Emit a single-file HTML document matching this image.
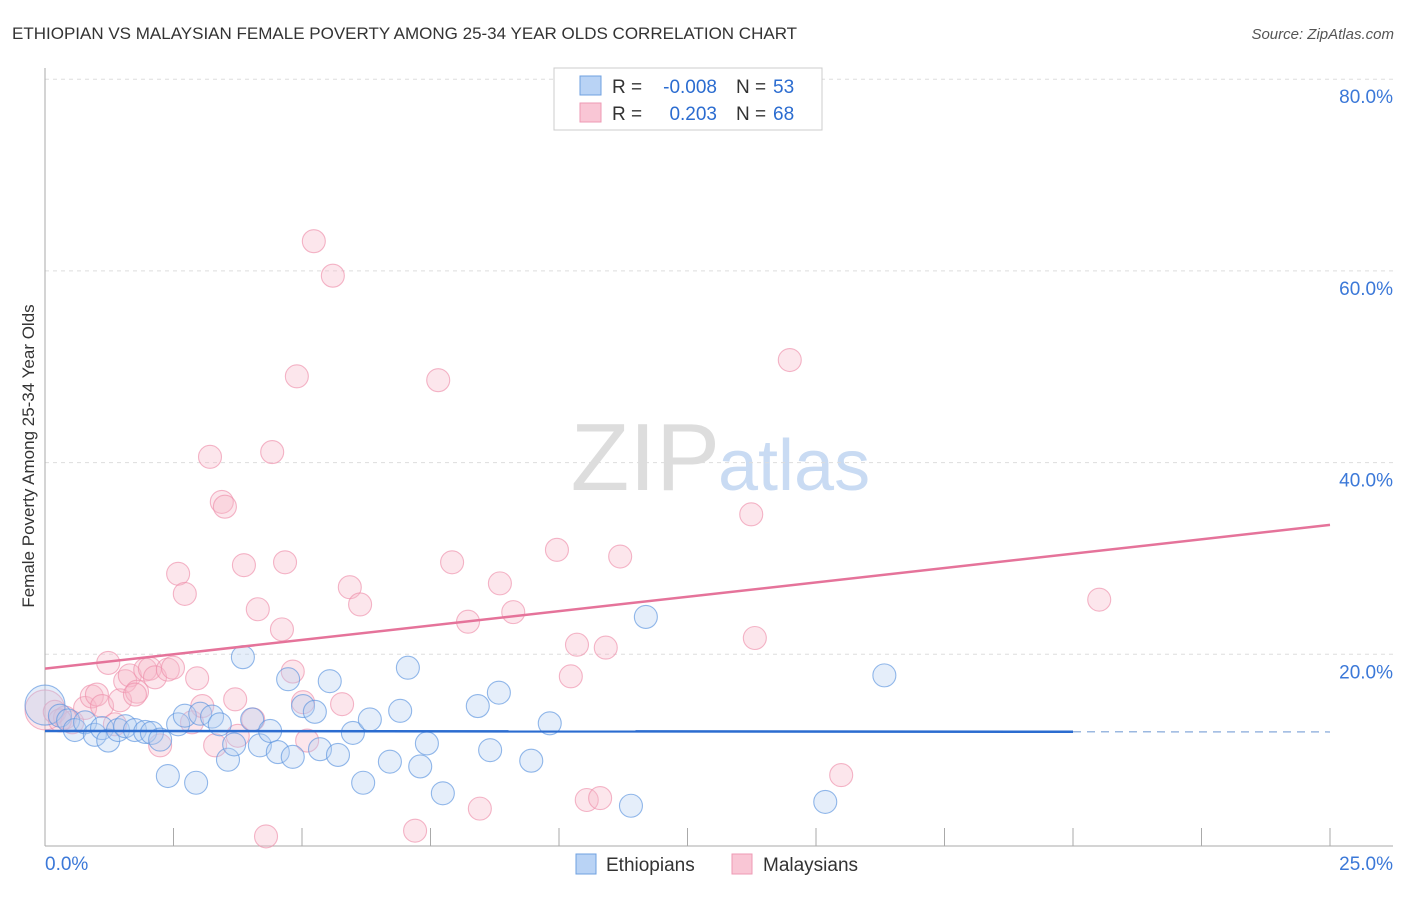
<!DOCTYPE html>
<html><head><meta charset="utf-8"><style>
body{margin:0;background:#fff;font-family:"Liberation Sans",sans-serif}
svg text{font-family:"Liberation Sans",sans-serif}
</style></head><body>
<svg id="c" width="1406" height="892">
<text x="12" y="39" font-size="17" fill="#333">ETHIOPIAN VS MALAYSIAN FEMALE POVERTY AMONG 25-34 YEAR OLDS CORRELATION CHART</text>
<text x="1394" y="39" font-size="15" fill="#555" text-anchor="end" font-style="italic">Source: ZipAtlas.com</text>
<text x="720" y="490" font-size="96" fill="#ddd" text-anchor="end" font-family="Liberation Serif">ZIP</text>
<text x="718" y="490" font-size="72" fill="#c9dbf3">atlas</text>
<text transform="translate(34,456) rotate(-90)" font-size="17" fill="#333" text-anchor="middle">Female Poverty Among 25-34 Year Olds</text>
<g id="grid"></g><g id="pts"></g><g id="trend"></g>
<g>
<rect x="554" y="68" width="268" height="62" fill="#fff" stroke="#ccc"/>
<rect x="580" y="76" width="21" height="19" fill="#b9d3f5" stroke="#6fa0e0"/>
<rect x="580" y="103" width="21" height="19" fill="#f9c6d5" stroke="#ee9ab4"/>
<text x="612" y="93" font-size="19" fill="#333">R =</text>
<text x="717" y="93" font-size="19" fill="#2b6cd0" text-anchor="end">-0.008</text>
<text x="736" y="93" font-size="19" fill="#333">N =</text>
<text x="773" y="93" font-size="19" fill="#2b6cd0">53</text>
<text x="612" y="120" font-size="19" fill="#333">R =</text>
<text x="717" y="120" font-size="19" fill="#2b6cd0" text-anchor="end">0.203</text>
<text x="736" y="120" font-size="19" fill="#333">N =</text>
<text x="773" y="120" font-size="19" fill="#2b6cd0">68</text>
</g>
<g>
<rect x="576" y="854" width="20" height="20" fill="#b9d3f5" stroke="#6fa0e0"/>
<text x="606" y="871" font-size="19" fill="#333">Ethiopians</text>
<rect x="732" y="854" width="20" height="20" fill="#f9c6d5" stroke="#ee9ab4"/>
<text x="763" y="871" font-size="19" fill="#333">Malaysians</text>
</g>
</svg>
<script>
const blueX=[0,0.29,0.45,0.58,0.78,0.97,1.11,1.23,1.42,1.56,1.75,1.95,2.08,2.24,2.39,2.59,2.72,2.94,3.02,3.25,3.40,3.56,3.68,3.85,4.03,4.18,4.38,4.53,4.73,4.82,5.02,5.25,5.35,5.54,5.70,5.99,6.19,6.32,6.71,6.91,7.06,7.30,7.43,7.74,8.42,8.66,8.83,9.46,9.82,11.40,11.69,15.18,16.33];
const blueY=[14.7,13.6,13.1,12.1,12.9,11.6,12.3,11.0,12.1,12.5,12.1,11.9,11.8,11.1,7.3,12.7,13.6,6.6,13.8,13.5,12.7,9.0,10.6,19.7,13.2,10.5,12.0,9.8,17.4,9.3,14.6,14.0,10.1,17.2,9.5,11.8,6.6,13.2,8.8,14.1,18.6,8.3,10.7,5.5,14.6,10.0,16.0,8.9,12.8,4.2,23.9,4.6,17.8];
const pinkX=[0,0.19,0.39,0.53,0.78,0.91,1.01,1.11,1.23,1.36,1.46,1.56,1.65,1.79,1.95,2.04,2.14,2.24,2.39,2.49,2.59,2.72,2.86,2.96,3.06,3.21,3.31,3.44,3.50,3.70,3.75,3.87,4.05,4.14,4.30,4.42,4.61,4.67,4.82,4.90,5.02,5.10,5.23,5.60,5.78,5.93,6.13,7.20,7.65,7.92,8.23,8.46,8.85,9.11,9.96,10.23,10.35,10.54,10.80,10.91,11.19,13.74,13.81,14.49,15.49,20.51,0.29,1.75];
const pinkY=[14.2,14.0,13.4,12.9,14.4,15.6,15.8,14.6,19.1,12.7,15.2,17.2,17.8,16.1,18.4,18.5,17.6,10.5,18.4,18.6,28.4,26.3,12.9,17.5,14.6,40.6,10.5,35.9,35.4,15.3,11.5,29.3,13.2,24.7,1.0,41.1,22.6,29.6,18.2,49.0,15.0,11.0,63.1,59.5,14.8,27.0,25.2,1.6,48.6,29.6,23.4,3.9,27.4,24.4,30.9,17.7,21.0,4.8,5.0,20.7,30.2,34.6,21.7,50.7,7.4,25.7,13.1,15.8];
const blueTrend=[12.0,11.9];
const pinkTrend=[18.5,33.5];
const yTicks=[20,40,60,80];
const yTickLabels=["20.0%","40.0%","60.0%","80.0%"];
const xTickLabels=["0.0%","25.0%"];
const NS="http://www.w3.org/2000/svg";
const X=v=>45+v/25*1285, Y=v=>846-v/20*191.7;
function mk(g,t,a){const e=document.createElementNS(NS,t);for(const k in a)e.setAttribute(k,a[k]);document.getElementById(g).appendChild(e);return e;}
yTicks.forEach((t,i)=>{
 let l=mk('grid','line',{x1:45,x2:1393,y1:Y(t),y2:Y(t),stroke:'#ddd','stroke-dasharray':'4,4'});
 
 
 let tx=mk('grid','text',{x:1393,y:Y(t)+24,'font-size':19,fill:'#3b78d8','text-anchor':'end'});
 tx.textContent=yTickLabels[i];
 
 
});
let ax=mk('grid','line',{x1:45,x2:45,y1:68,y2:846,stroke:'#aaa'});


let bx=mk('grid','line',{x1:45,x2:1393,y1:846,y2:846,stroke:'#aaa'});


for(let k=1;k<=10;k++){let t=mk('grid','line',{x1:X(k*2.5),x2:X(k*2.5),y1:828,y2:846,stroke:'#aaa'});
 
 }
[[0,'start',45],[25,'end',1393]].forEach((d,i)=>{let t=mk('grid','text',{x:d[2],y:870,'font-size':19,fill:'#3b78d8','text-anchor':d[1]});t.textContent=xTickLabels[i];
 
 });
function pts(xs,ys,fill,stroke,name){xs.forEach((x,i)=>{const r=i==0?20:11.5;
 let c=mk('pts','circle',{cx:X(x),cy:Y(ys[i]),r:r,fill:fill,'fill-opacity':0.35,stroke:stroke,'stroke-opacity':0.65,'stroke-width':1.1});
 
 });}
pts(pinkX,pinkY,'#f7b6c9','#ee8fab','malaysian-point');
pts(blueX,blueY,'#b4cff2','#5b93de','ethiopian-point');
let b1=mk('trend','line',{x1:X(0),y1:Y(blueTrend[0]),x2:X(20),y2:Y(blueTrend[0]+(blueTrend[1]-blueTrend[0])*0.8),stroke:'#2b6cd0','stroke-width':2.5});


let b2=mk('trend','line',{x1:X(20),y1:Y(blueTrend[0]+(blueTrend[1]-blueTrend[0])*0.8),x2:X(25),y2:Y(blueTrend[1]),stroke:'#9bb8e0','stroke-width':1.5,'stroke-dasharray':'8,6'});


let p1=mk('trend','line',{x1:X(0),y1:Y(pinkTrend[0]),x2:X(25),y2:Y(pinkTrend[1]),stroke:'#e5739a','stroke-width':2.5});


</script>
</body></html>
